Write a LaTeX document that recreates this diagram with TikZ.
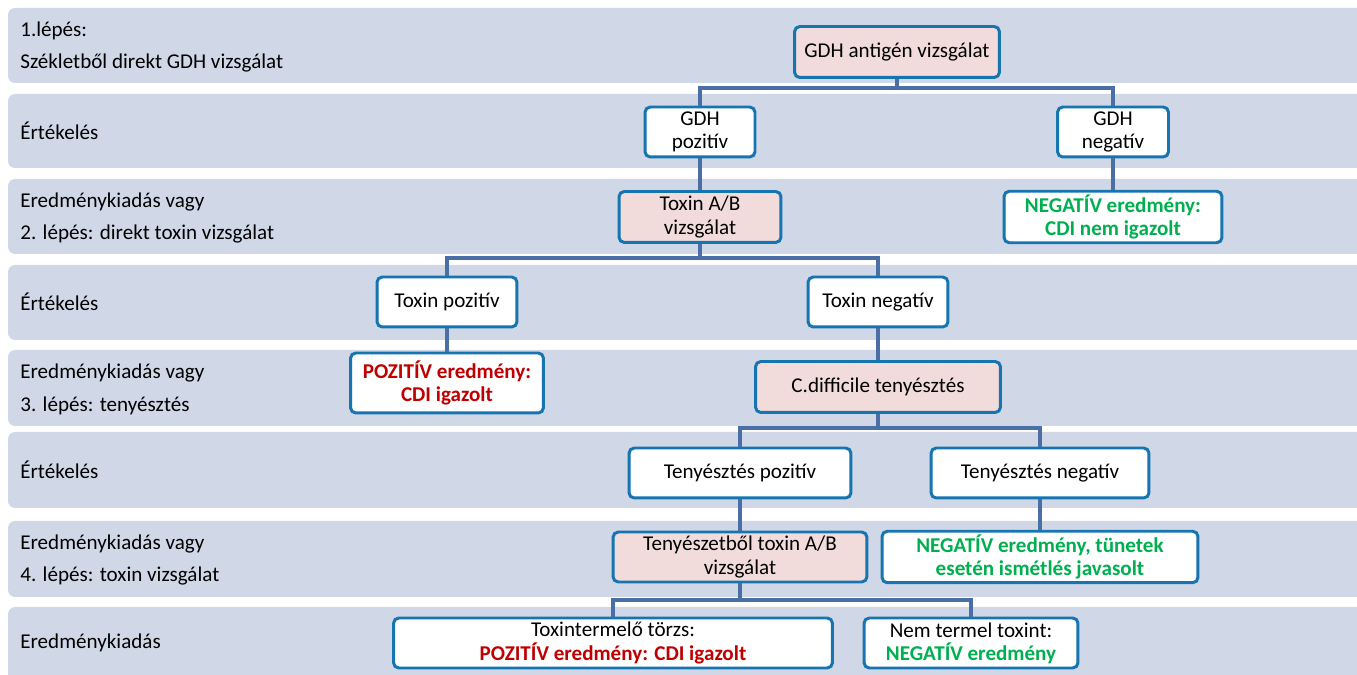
\documentclass[tikz,border=0pt]{standalone}
\usepackage{fontspec}
\setmainfont{Carlito}
\definecolor{bandfill}{HTML}{D0D8E8}
\definecolor{boxline}{HTML}{1674B0}
\definecolor{connline}{HTML}{4A6FA6}
\definecolor{testfill}{HTML}{F2DCDB}
\definecolor{posred}{HTML}{C00000}
\definecolor{neggreen}{HTML}{00B050}

\tikzset{
  band/.style={fill=bandfill,rounded corners=4pt},
  box/.style={draw=boxline,line width=1.7pt,fill=white,rounded corners=3pt,
    align=center,inner sep=2pt,font=\fontsize{12}{13.2}\selectfont},
  testbox/.style={box,fill=testfill},
  conn/.style={draw=connline,line width=2.6pt},
  rowlabel/.style={anchor=west,align=left,inner sep=0pt,
    font=\fontsize{12}{18.7}\selectfont},
  posres/.style={box,text=posred,font=\fontsize{12}{13.2}\selectfont\bfseries},
  negres/.style={box,text=neggreen,font=\fontsize{12}{13.2}\selectfont\bfseries}
}

\begin{document}
\begin{tikzpicture}[x=0.02cm,y=-0.02cm]
  \useasboundingbox (0,0) rectangle (1357,675);
  \clip (0,0) rectangle (1357,675);

  % rows
  \fill[band] (8,8) rectangle (1380,83);
  \fill[band] (8,94) rectangle (1380,168);
  \fill[band] (8,179) rectangle (1380,254);
  \fill[band] (8,265) rectangle (1380,340);
  \fill[band] (8,350) rectangle (1380,426);
  \fill[band] (8,432) rectangle (1380,508);
  \fill[band] (8,521) rectangle (1380,597);
  \fill[band] (8,607) rectangle (1380,700);

  \node[rowlabel] (r1) at (20,47) {1.lépés:\\Székletből direkt GDH vizsgálat};
  \node[rowlabel] (r2) at (20,131) {Értékelés};
  \node[rowlabel] (r3) at (20,218) {Eredménykiadás vagy\\2. lépés: direkt toxin vizsgálat};
  \node[rowlabel] (r4) at (20,302) {Értékelés};
  \node[rowlabel] (r5) at (20,389) {Eredménykiadás vagy\\3. lépés: tenyésztés};
  \node[rowlabel] (r6) at (20,470) {Értékelés};
  \node[rowlabel] (r7) at (20,560) {Eredménykiadás vagy\\4. lépés: toxin vizsgálat};
  \node[rowlabel] (r8) at (20,643) {Eredménykiadás};

  % boxes
  \node[testbox,minimum width=4.1cm,minimum height=1.02cm] (gdh) at (897,52) {GDH antigén vizsgálat};
  \node[box,minimum width=2.2cm,minimum height=1cm] (gpos) at (700,132) {GDH\\pozitív};
  \node[box,minimum width=2.22cm,minimum height=1cm] (gneg) at (1113,132) {GDH\\negatív};
  \node[testbox,minimum width=3.24cm,minimum height=1.02cm] (toxab) at (700,217) {Toxin A/B\\vizsgálat};
  \node[negres,minimum width=4.36cm,minimum height=1cm] (negres1) at (1113,217) {NEGATÍV eredmény:\\CDI nem igazolt};
  \node[box,minimum width=2.8cm,minimum height=1cm] (toxpos) at (447,302) {Toxin pozitív};
  \node[box,minimum width=2.8cm,minimum height=1cm] (toxneg) at (878,302) {Toxin negatív};
  \node[posres,minimum width=3.86cm,minimum height=1.2cm] (posres1) at (447,383) {POZITÍV eredmény:\\CDI igazolt};
  \node[testbox,minimum width=4.9cm,minimum height=1.02cm] (cdt) at (878,387) {C.difficile tenyésztés};
  \node[box,minimum width=4.44cm,minimum height=1cm] (tpos) at (740,473) {Tenyésztés pozitív};
  \node[box,minimum width=4.36cm,minimum height=1cm] (tneg) at (1040,473) {Tenyésztés negatív};
  \node[testbox,minimum width=5.08cm,minimum height=1cm] (tab) at (740,557) {Tenyészetből toxin A/B\\vizsgálat};
  \node[negres,minimum width=6.32cm,minimum height=1cm] (negres2) at (1040,557) {NEGATÍV eredmény, tünetek\\esetén ismétlés javasolt};
  \node[box,minimum width=8.78cm,minimum height=1cm] (toxstrain) at (613,643) {Toxintermelő törzs:\\\textcolor{posred}{\bfseries POZITÍV eredmény: CDI igazolt}};
  \node[box,minimum width=4.28cm,minimum height=1cm] (notox) at (971,643) {Nem termel toxint:\\\textcolor{neggreen}{\bfseries NEGATÍV eredmény}};

  % connectors
  \coordinate (j1) at (897,88);
  \coordinate (j2) at (700,258);
  \coordinate (j3) at (878,428);
  \coordinate (j4) at (740,600);
  \draw[conn] (gdh.south) -- (j1);
  \draw[conn] (gpos.north) |- (j1) -| (gneg.north);
  \draw[conn] (gpos.south) -- (toxab.north);
  \draw[conn] (gneg.south) -- (negres1.north);
  \draw[conn] (toxab.south) -- (j2);
  \draw[conn] (toxpos.north) |- (j2) -| (toxneg.north);
  \draw[conn] (toxpos.south) -- (posres1.north);
  \draw[conn] (toxneg.south) -- (cdt.north);
  \draw[conn] (cdt.south) -- (j3);
  \draw[conn] (tpos.north) |- (j3) -| (tneg.north);
  \draw[conn] (tpos.south) -- (tab.north);
  \draw[conn] (tneg.south) -- (negres2.north);
  \draw[conn] (tab.south) -- (j4);
  \draw[conn] (toxstrain.north) |- (j4) -| (notox.north);
\end{tikzpicture}
\end{document}
